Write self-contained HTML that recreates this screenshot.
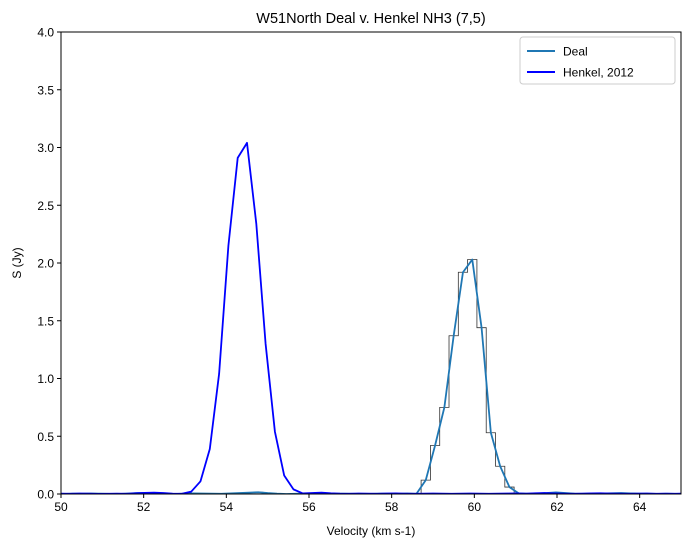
<!DOCTYPE html>
<html><head><meta charset="utf-8">
<style>body{margin:0;background:#fff}svg{display:block;font-family:"Liberation Sans","DejaVu Sans",sans-serif}</style>
</head><body>
<svg id="chart" width="691" height="547" viewBox="0 0 691 547" xmlns="http://www.w3.org/2000/svg">
<text x="371" y="23" font-size="14.5" text-anchor="middle">W51North Deal v. Henkel NH3 (7,5)</text>
<g id="plot"></g>
<text x="371" y="535" font-size="12" text-anchor="middle">Velocity (km s-1)</text>
<text transform="translate(21,263) rotate(-90)" font-size="12" text-anchor="middle">S (Jy)</text>
<g>
<rect x="520" y="37" width="155" height="47" fill="#fff" stroke="#ccc" rx="3"/>
<line x1="527" y1="51" x2="555" y2="51" stroke="#1f77b4" stroke-width="2"/>
<text x="563" y="55.5" font-size="12">Deal</text>
<line x1="527" y1="72" x2="555" y2="72" stroke="#0000ff" stroke-width="2"/>
<text x="563" y="76.5" font-size="12">Henkel, 2012</text>
</g>
</svg>
<script>
const xTicks=[50,52,54,56,58,60,62,64];
const yTicks=[0,0.5,1,1.5,2,2.5,3,3.5,4];
const yTickLabels=["0.0","0.5","1.0","1.5","2.0","2.5","3.0","3.5","4.0"];
const dealStart=50.05, dealStep=0.225;
const dealValues=[0,0.003,0.002,0.004,0.003,0.001,0,0.004,0.008,0.01,0.006,0.002,0,0.003,0.005,0.004,0.003,0.002,0.005,0.008,0.012,0.015,0.008,0.003,0,0.002,0.004,0.003,0.001,0.002,0.003,0.002,0,0.001,0.003,0.002,0.001,0.004,0.002,0.12,0.42,0.75,1.37,1.92,2.03,1.44,0.53,0.24,0.06,0.005,0.002,0.004,0.008,0.014,0.008,0.003,0.002,0.003,0.004,0.006,0.008,0.005,0.003,0.002,0.001,0.002,0.001];
const henkelStart=50.0, henkelStep=0.225;
const henkelValues=[0.003,0.002,0.004,0.003,0.001,0.002,0.003,0.002,0.006,0.01,0.012,0.008,0.003,0.002,0.02,0.11,0.39,1.04,2.15,2.91,3.04,2.34,1.3,0.54,0.16,0.04,0.005,0.008,0.012,0.006,0.003,0.002,0.004,0.003,0.002,0.004,0.005,0.003,0.002,0.003,0.004,0.003,0.002,0.003,0.004,0.003,0.002,0.003,0.004,0.005,0.003,0.006,0.008,0.005,0.003,0.002,0.003,0.005,0.006,0.004,0.003,0.002,0.003,0.004,0.002,0.003,0.002,0.003];
const L=61,R=681,T=32,B=494,xMin=50,xMax=65,yMin=0,yMax=4;
const sx=v=>L+(v-xMin)/(xMax-xMin)*(R-L);
const sy=v=>B-(v-yMin)/(yMax-yMin)*(B-T);
const NS="http://www.w3.org/2000/svg";
const g=document.getElementById('plot');
function mk(t,a){const e=document.createElementNS(NS,t);for(const k in a)e.setAttribute(k,a[k]);g.appendChild(e);return e;}
const defs=mk('defs',{});const cp=document.createElementNS(NS,'clipPath');cp.setAttribute('id','clip');
const cr=document.createElementNS(NS,'rect');cr.setAttribute('x',L);cr.setAttribute('y',T);cr.setAttribute('width',R-L);cr.setAttribute('height',B-T);cp.appendChild(cr);defs.appendChild(cp);
// histogram
let hd='';dealValues.forEach((v,i)=>{const c=dealStart+i*dealStep;const x0=sx(c-dealStep/2),x1=sx(c+dealStep/2);hd+=(i?'L':'M')+x0+','+sy(v)+'L'+x1+','+sy(v);});
const h=mk('path',{d:hd,fill:'none',stroke:'#333',"stroke-width":0.8,"clip-path":"url(#clip)"});


const dd=dealValues.map((v,i)=>(i?'L':'M')+sx(dealStart+i*dealStep)+','+sy(v)).join('');
const dl=mk('path',{d:dd,fill:'none',stroke:'#1f77b4',"stroke-width":1.8,"clip-path":"url(#clip)","stroke-linejoin":"round"});


const hk=henkelValues.map((v,i)=>(i?'L':'M')+sx(henkelStart+i*henkelStep)+','+sy(v)).join('');
const hl=mk('path',{d:hk,fill:'none',stroke:'#0000ff',"stroke-width":1.8,"clip-path":"url(#clip)","stroke-linejoin":"round"});


const fr=mk('rect',{x:L,y:T,width:R-L,height:B-T,fill:'none',stroke:'#000',"stroke-width":1});


xTicks.forEach(t=>{const x=sx(t);mk('line',{x1:x,y1:B,x2:x,y2:B+4,stroke:'#000'});
const tx=mk('text',{x:x,y:B+17,"font-size":12,"text-anchor":"middle"});tx.textContent=t;

});
yTicks.forEach((t,i)=>{const y=sy(t);mk('line',{x1:L-4,y1:y,x2:L,y2:y,stroke:'#000'});
const tx=mk('text',{x:L-7,y:y+4.5,"font-size":12,"text-anchor":"end"});tx.textContent=yTickLabels[i];

});
</script>
</body></html>
